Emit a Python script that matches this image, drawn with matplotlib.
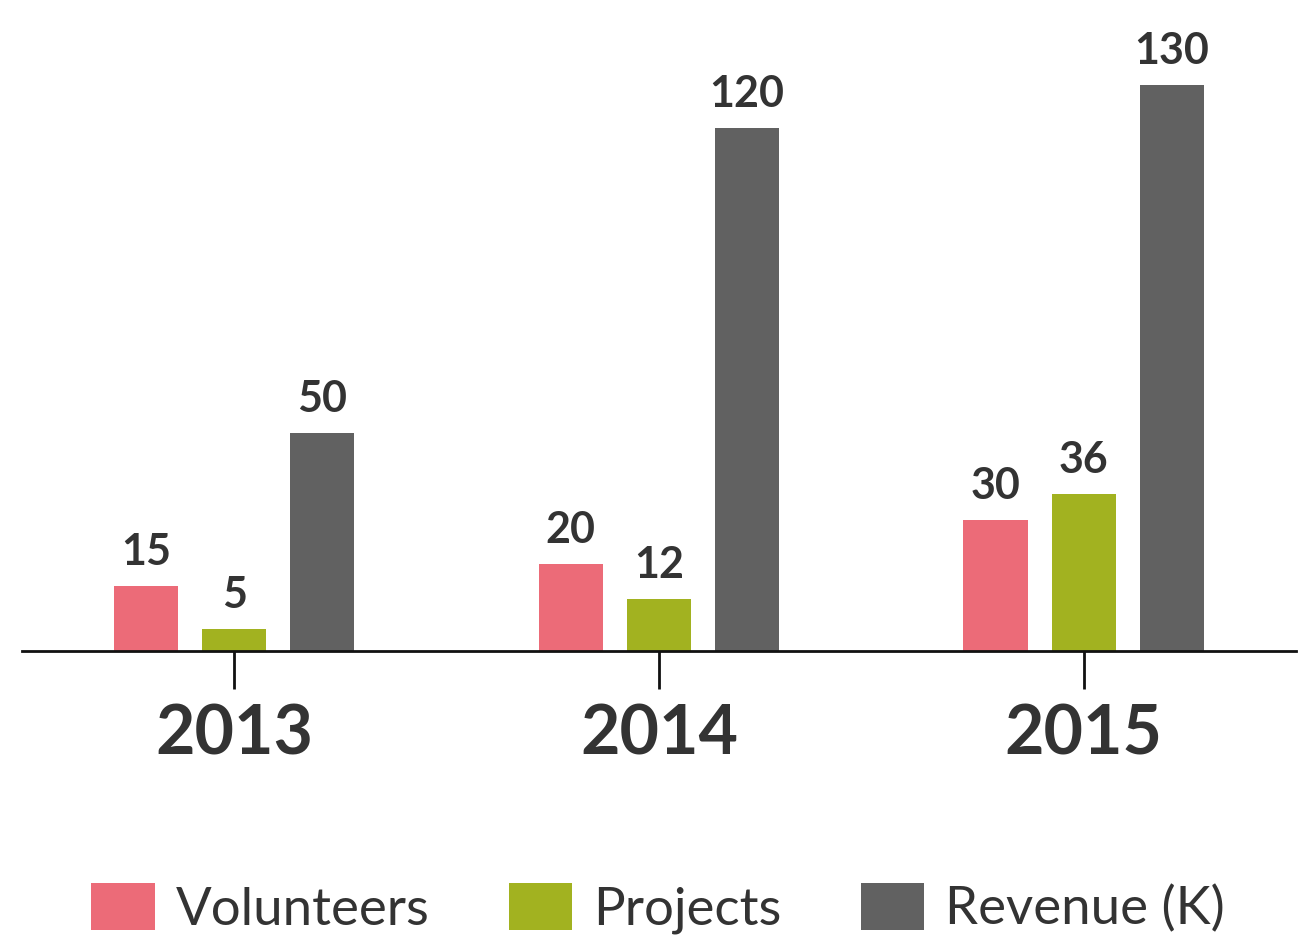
import matplotlib
matplotlib.use("Agg")
import matplotlib.pyplot as plt
from matplotlib.patches import Patch
import numpy as np

years = ["2013", "2014", "2015"]
series_names = ["Volunteers", "Projects", "Revenue (K)"]
volunteers = [15, 20, 30]
projects = [5, 12, 36]
revenue = [50, 120, 130]
colors = ["#EC6B78", "#A2B220", "#616161"]
text_color = "#333333"

plt.rcParams['font.family'] = ['Lato', 'DejaVu Sans']

fig = plt.figure(figsize=(13.16, 9.44), dpi=100)
ax = fig.add_axes([0.0167, 0.3104, 0.9681, 0.6462])

x = np.arange(len(years))
width = 0.151
offset = 0.2075
for i, (vals, c) in enumerate(zip([volunteers, projects, revenue], colors)):
    bars = ax.bar(x + (i - 1) * offset, vals, width, color=c, zorder=2)
    for b, v in zip(bars, vals):
        ax.annotate(str(v), (b.get_x() + b.get_width() / 2, v),
                    xytext=(0, 10), textcoords="offset points",
                    ha="center", va="bottom", fontsize=31, fontweight="bold",
                    color=text_color)

ax.set_xlim(-0.5, 2.5)
ax.set_ylim(0, 140)
for s in ["top", "right", "left"]:
    ax.spines[s].set_visible(False)
ax.spines["bottom"].set_linewidth(2)
ax.spines["bottom"].set_color("#111111")
ax.set_yticks([])
ax.set_xticks(x)
ax.set_xticklabels(years, fontsize=49, fontweight="bold", color=text_color)
ax.tick_params(axis="x", length=27, width=2, color="#111111", pad=11)

handles = [Patch(facecolor=c, edgecolor="none") for c in colors]
fig.legend(handles, series_names, loc="lower center", ncol=3,
           bbox_to_anchor=(0.5, -0.04), frameon=False, fontsize=38,
           handlelength=1.2, handleheight=1.0, handletextpad=0.4,
           columnspacing=1.5, labelcolor=text_color)

fig.savefig("out.png", dpi=100)
